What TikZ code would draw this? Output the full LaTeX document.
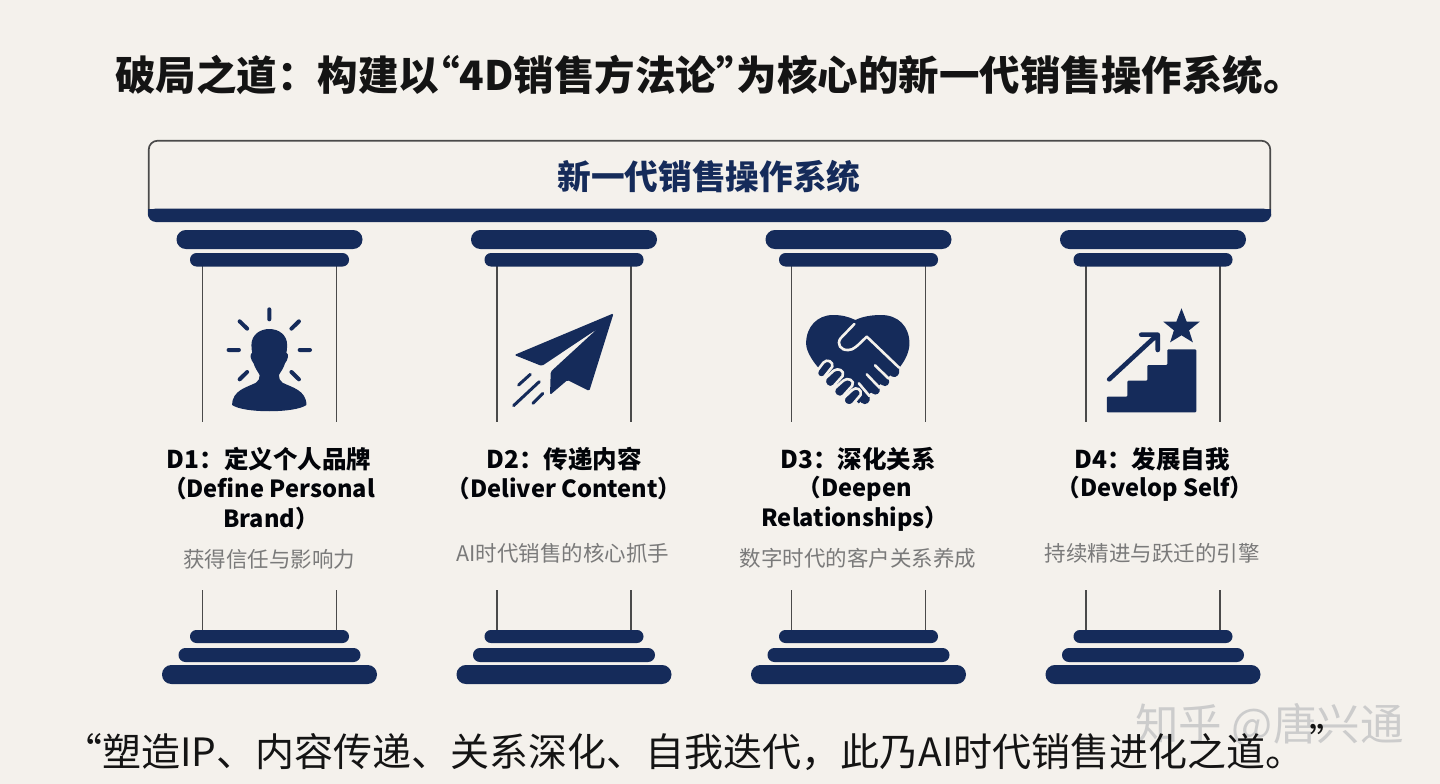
\documentclass[tikz,border=0pt]{standalone}
\usepackage{fontspec}
\newfontfamily\cjk{Noto Sans CJK SC}
\definecolor{navy}{HTML}{152B5A}
\definecolor{paper}{HTML}{F4F1EC}
\definecolor{rule}{HTML}{4A4A4A}
\definecolor{subgray}{HTML}{7A7A7A}
\tikzset{
 bar/.style={fill=navy,draw=none},
 shaft/.style={draw=rule,line width=1.7pt},
 ray/.style={draw=navy,line width=4pt,line cap=round},
 head/.style={font=\cjk\bfseries\fontsize{24.5}{24.5}\selectfont,text=black!90!navy,inner sep=0pt,anchor=center},
 headlatin/.style={head,font=\cjk\bfseries\fontsize{23.6}{23.6}\selectfont},
 sub/.style={font=\cjk\fontsize{21.5}{21.5}\selectfont,text=subgray,inner sep=0pt,anchor=center},
 gap/.style={draw=paper,line width=2.6pt,line cap=round,line join=round},
}
\begin{document}
\begin{tikzpicture}[x=1pt,y=-1pt]
\useasboundingbox (0,0) rectangle (1440,784);
\fill[paper] (0,0) rectangle (1440,784);
% title
\node[font=\cjk\bfseries\fontsize{40.5}{40.5}\selectfont,text=black!92,inner sep=0pt,anchor=west] (title) at (115,75) {破局之道：构建以\kern-20pt“4D销售方法论”\kern-20pt 为核心的新一代销售操作系统。};
% roof
\draw[draw=rule,line width=1.7pt,rounded corners=9pt] (148.7,215) -- (148.7,140.7) -- (1270.3,140.7) -- (1270.3,215);
\fill[navy,rounded corners=8pt] (148,208.5) rectangle (1271,222);
\fill[navy] (148,208.5) rectangle (1271,214);
\node[font=\cjk\bfseries\fontsize{33.7}{33.7}\selectfont,text=navy,inner sep=0pt] (rooflabel) at (709,177) {新一代销售操作系统};
% columns
\foreach \c in {269.5,564,858.5,1153}{
  \draw[shaft] (\c-67,266) -- (\c-67,422) (\c+67,266) -- (\c+67,422);
  \draw[shaft] (\c-67,590) -- (\c-67,630) (\c+67,590) -- (\c+67,630);
  \fill[bar,rounded corners=9.4pt] (\c-93,230) rectangle (\c+93,249);
  \fill[bar,rounded corners=6.5pt] (\c-79.5,253) rectangle (\c+79.5,266.5);
  \fill[bar,rounded corners=6.4pt] (\c-79.5,630) rectangle (\c+79.5,643);
  \fill[bar,rounded corners=6.9pt] (\c-91,648) rectangle (\c+91,662);
  \fill[bar,rounded corners=9.4pt] (\c-107.5,665) rectangle (\c+107.5,684);
}
% person icon
\begin{scope}[shift={(140,130)},x=0.35714pt,y=-0.33333pt]
 \draw[ray] (362,538) -- (362,568) (279,574) -- (300,596) (445,574) -- (424,596)
   (248,660) -- (277,660) (447,660) -- (476,660) (279,748) -- (300,726) (445,748) -- (424,726);
 \fill[navy] (362,597) .. controls (335,597) and (312,615) .. (312,645)
   .. controls (312,655) and (313,662) .. (314,668)
   .. controls (306,672) and (310,690) .. (318,700)
   .. controls (322,715) and (330,725) .. (335,735)
   .. controls (335,745) and (333,752) .. (325,758)
   .. controls (300,772) and (258,780) .. (258,825)
   .. controls (290,850) and (434,850) .. (466,825)
   .. controls (466,780) and (424,772) .. (399,758)
   .. controls (391,752) and (389,745) .. (389,735)
   .. controls (394,725) and (402,715) .. (406,700)
   .. controls (414,690) and (418,672) .. (410,668)
   .. controls (411,662) and (412,655) .. (412,645)
   .. controls (412,615) and (389,597) .. (362,597) -- cycle;
\end{scope}
% plane icon
\begin{scope}[shift={(140,130)},x=0.35714pt,y=-0.33333pt]
 \fill[navy,rounded corners=1.5pt] (1326,550) -- (1048,675) -- (1125,708) -- (1280,597) -- (1150,725) -- (1148,795) -- (1197,750) -- (1258,783) -- cycle;
 \draw[draw=navy,line width=3pt,line cap=round] (1060,765) -- (1093,733) (1046,827) -- (1118,755) (1100,820) -- (1128,790);
\end{scope}
% heart icon
\begin{scope}[shift={(740,220)},x=0.34437pt,y=-0.33333pt]
 \fill[navy] (335,300) .. controls (315,290) and (295,285) .. (270,285)
   .. controls (225,285) and (192,320) .. (192,370)
   .. controls (192,390) and (205,415) .. (225,440)
   -- (345,550) -- (465,440)
   .. controls (480,420) and (492,395) .. (492,370)
   .. controls (492,320) and (460,285) .. (410,285)
   .. controls (380,285) and (355,290) .. (335,300) -- cycle;
 % right hand fingers
 \fill[navy] (462,450) .. controls (465,462) and (455,475) .. (442,470) -- (395,435) -- (462,443) -- cycle;
 \fill[navy] (432,478) .. controls (438,490) and (425,505) .. (412,495) -- (368,462) -- (395,435) -- cycle;
 \fill[navy] (405,505) .. controls (410,518) and (395,530) .. (384,520) -- (345,490) -- (368,462) -- cycle;
 \fill[navy] (376,530) .. controls (382,545) and (365,560) .. (352,548) -- (345,500) -- cycle;
 \draw[gap] (392,436) -- (432,476) (368,463) -- (405,503) (345,490) -- (376,528);
 % thumb / hand outline
 \draw[gap] (332,312) -- (292,355) .. controls (280,372) and (292,392) .. (315,390) .. controls (330,390) and (340,378) .. (368,350) -- (462,443);
 % left hand fingers
 \draw[gap,fill=navy] (226,450) .. controls (218,462) and (228,480) .. (245,470) -- (268,440) .. controls (272,425) and (252,415) .. (242,428) -- cycle;
 \draw[gap,fill=navy] (248,475) .. controls (240,490) and (255,510) .. (272,498) -- (298,468) .. controls (305,452) and (285,442) .. (272,452) -- cycle;
 \draw[gap,fill=navy] (275,505) .. controls (265,520) and (285,540) .. (300,527) -- (326,497) .. controls (335,482) and (312,470) .. (300,482) -- cycle;
 \draw[gap,fill=navy] (303,532) .. controls (293,547) and (312,565) .. (328,552) -- (350,525) .. controls (356,510) and (338,498) .. (326,510) -- cycle;
\end{scope}
% stairs icon
\begin{scope}[shift={(740,220)},x=0.34437pt,y=-0.33333pt]
 \fill[navy,rounded corners=1pt] (1065,530) -- (1125,530) -- (1125,482) -- (1183,482) -- (1183,435) -- (1241,435) -- (1241,388) -- (1325,388) -- (1325,577) -- (1065,577) -- cycle;
 \draw[draw=navy,line width=4.6pt,line cap=round,line join=round] (1072,478) -- (1208,348) (1165,344) -- (1213,344) -- (1213,390);
 \fill[navy] (1282,265) -- (1297,305) -- (1335,305) -- (1304,331) -- (1315,367) -- (1282,346) -- (1249,367) -- (1260,331) -- (1229,305) -- (1267,305) -- cycle;
\end{scope}
% labels
\node[head] (d1a) at (269,459) {D1：定义个人品牌};
\node[headlatin] (d1b) at (269,489) {（Define Personal};
\node[headlatin] (d1c) at (271,519) {Brand）};
\node[sub] (d1s) at (269,559) {获得信任与影响力};
\node[head] (d2a) at (564,459) {D2：传递内容};
\node[headlatin] (d2b) at (564,489) {（Deliver Content）};
\node[sub] (d2s) at (563,553) {AI时代销售的核心抓手};
\node[head] (d3a) at (858,459) {D3：深化关系};
\node[headlatin] (d3b) at (855,489) {（Deepen};
\node[headlatin] (d3c) at (855,519) {Relationships）};
\node[sub] (d3s) at (858,558) {数字时代的客户关系养成};
\node[head] (d4a) at (1152,459) {D4：发展自我};
\node[headlatin] (d4b) at (1155,489) {（Develop Self）};
\node[sub] (d4s) at (1152,553) {持续精进与跃迁的引擎};
% watermark
\node[font=\cjk\fontsize{43.5}{43.5}\selectfont,text=black!20,inner sep=0pt,anchor=west] (mark) at (1135,726) {知乎 @唐兴通};
% quote
\node[font=\cjk\fontsize{39}{39}\selectfont,text=black!92,inner sep=0pt,anchor=west] (quote) at (63,752) {“塑造IP、内容传递、关系深化、自我迭代，此乃AI时代销售进化之道。};
\node[font=\cjk\fontsize{37}{37}\selectfont,text=black!92,inner sep=0pt] (quoteend) at (1328,740) {”};
\end{tikzpicture}
\end{document}
